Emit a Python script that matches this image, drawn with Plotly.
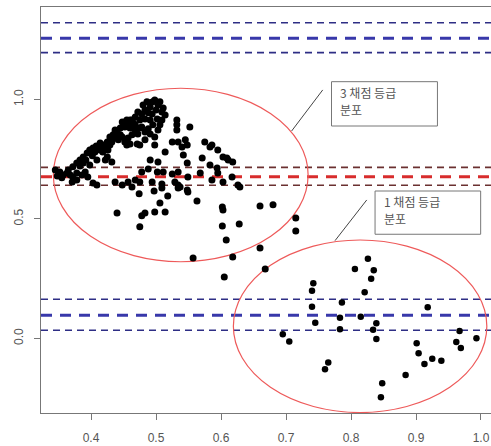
import plotly.graph_objects as go

# ---- data ----
grade3_x = [
    # left blob around the red band
    0.345, 0.352, 0.357, 0.363, 0.365, 0.368, 0.372, 0.371, 0.378, 0.378, 0.386, 0.391, 0.395, 0.403, 0.409, 0.348, 0.355,
    # rising ridge
    0.372, 0.378, 0.383, 0.388, 0.388, 0.394, 0.398, 0.398, 0.403, 0.408, 0.411, 0.414, 0.418, 0.418, 0.425, 0.425,
    0.432, 0.429, 0.434, 0.440, 0.442, 0.445, 0.448, 0.452, 0.452, 0.455, 0.460, 0.460, 0.465, 0.457, 0.422, 0.429, 0.437,
    0.383, 0.392, 0.402, 0.406, 0.414, 0.432, 0.437, 0.445, 0.448, 0.455, 0.468, 0.475, 0.480, 0.486, 0.514, 0.509,
    0.491, 0.483, 0.426, 0.409,
    # peak
    0.495, 0.503, 0.491, 0.509, 0.483, 0.478, 0.472, 0.468, 0.463, 0.457, 0.483, 0.491, 0.502, 0.506, 0.478, 0.488,
    0.483, 0.472, 0.463, 0.460, 0.471, 0.475, 0.498, 0.498, 0.498, 0.491, 0.500, 0.494, 0.488, 0.506, 0.511, 0.475,
    0.468, 0.495, 0.503,
    # right of peak
    0.532, 0.532, 0.532, 0.552, 0.525, 0.534, 0.545, 0.548, 0.540, 0.514, 0.542, 0.503, 0.491, 0.548, 0.488, 0.478,
    0.502, 0.511, 0.534, 0.525, 0.468, 0.475, 0.494, 0.529, 0.534, 0.463, 0.509, 0.448, 0.437, 0.457, 0.422,
    # farther right
    0.568, 0.575, 0.583, 0.595, 0.603, 0.609, 0.583, 0.594, 0.595, 0.586, 0.603, 0.626, 0.617, 0.571, 0.586, 0.611,
    0.618, 0.629, 0.537, 0.548, 0.549,
    # lower scatter
    0.440, 0.474, 0.478, 0.483, 0.475, 0.498, 0.506, 0.514, 0.497, 0.509, 0.518, 0.534, 0.549, 0.563, 0.602, 0.603,
    0.602, 0.628, 0.608, 0.660, 0.680, 0.715, 0.715, 0.660, 0.557, 0.618, 0.668, 0.605]
grade3_y = [
    0.705, 0.697, 0.684, 0.692, 0.705, 0.684, 0.676, 0.655, 0.663, 0.692, 0.684, 0.697, 0.676, 0.651, 0.642, 0.680, 0.672,
    0.718, 0.734, 0.747, 0.759, 0.734, 0.776, 0.789, 0.726, 0.797, 0.805, 0.797, 0.818, 0.810, 0.780, 0.822, 0.759,
    0.738, 0.843, 0.852, 0.864, 0.831, 0.881, 0.843, 0.885, 0.822, 0.810, 0.914, 0.881, 0.902, 0.839, 0.801, 0.810, 0.839,
    0.722, 0.747, 0.764, 0.780, 0.789, 0.822, 0.872, 0.852, 0.906, 0.914, 0.872, 0.881, 0.977, 0.990, 0.935, 0.914,
    0.856, 0.831, 0.789, 0.747,
    0.990, 0.977, 0.969, 0.948, 0.956, 0.939, 0.948, 0.927, 0.914, 0.898, 0.918, 0.914, 0.918, 0.894, 0.885, 0.877,
    0.864, 0.856, 0.852, 0.814, 0.814, 0.810, 0.843, 0.810, 0.998, 0.986, 0.956, 0.939, 0.944, 0.990, 0.964, 0.914,
    0.894, 0.894, 0.872,
    0.914, 0.894, 0.872, 0.885, 0.822, 0.822, 0.831, 0.810, 0.801, 0.780, 0.768, 0.738, 0.747, 0.734, 0.709, 0.697,
    0.697, 0.697, 0.697, 0.688, 0.663, 0.655, 0.655, 0.655, 0.642, 0.634, 0.646, 0.642, 0.655, 0.655, 0.747,
    0.692, 0.822, 0.801, 0.789, 0.759, 0.755, 0.726, 0.713, 0.692, 0.663, 0.655, 0.642, 0.676, 0.755, 0.810, 0.747,
    0.738, 0.634, 0.634, 0.621, 0.676,
    0.525, 0.605, 0.513, 0.525, 0.467, 0.529, 0.567, 0.529, 0.617, 0.630, 0.596, 0.630, 0.613, 0.575, 0.550, 0.538,
    0.471, 0.479, 0.412, 0.554, 0.559, 0.504, 0.450, 0.379, 0.337, 0.341, 0.291, 0.257]

grade1_x = [0.695, 0.705, 0.740, 0.742, 0.740, 0.745, 0.760, 0.765, 0.786, 0.783, 0.783, 0.806, 0.815, 0.821,
            0.826, 0.831, 0.835, 0.834, 0.839, 0.839, 0.848, 0.846, 0.884, 0.901, 0.904, 0.913, 0.918, 0.925,
            0.939, 0.962, 0.967, 0.969, 0.993]
grade1_y = [0.018, -0.013, 0.200, 0.231, 0.133, 0.066, -0.129, -0.101, 0.150, 0.087, 0.038, 0.291, 0.091, 0.193,
            0.333, 0.250, 0.285, 0.036, 0.064, -0.002, -0.187, -0.246, -0.153, -0.020, -0.062, -0.107, 0.131, -0.085,
            -0.093, -0.015, 0.031, -0.040, 0.001]

# reference line bands: upper limit, centre, lower limit
upper_band = [1.321, 1.256, 1.196]
mid_band = [0.716, 0.677, 0.641]
low_band = [0.164, 0.097, 0.034]

label3_lines = ["3 채점 등급", "분포"]
label1_lines = ["1 채점 등급", "분포"]

x_ticks = [0.4, 0.5, 0.6, 0.7, 0.8, 0.9, 1.0]
y_ticks = [0.0, 0.5, 1.0]

fig = go.Figure()

fig.add_trace(go.Scatter(x=grade3_x, y=grade3_y, mode="markers",
                         marker=dict(color="black", size=7), showlegend=False, hoverinfo="skip"))
fig.add_trace(go.Scatter(x=grade1_x, y=grade1_y, mode="markers",
                         marker=dict(color="black", size=6.5), showlegend=False, hoverinfo="skip"))

shapes = []
thin_blue = "#2e2e85"
thick_blue = "#3838aa"
thin_brown = "#6b3030"
thick_red = "#d82c2c"


def hline(v, color, width, dash):
    return dict(type="line", xref="paper", x0=0, x1=1, yref="y", y0=v, y1=v,
                line=dict(color=color, width=width, dash=dash), layer="below")


for band, thin_c, thick_c in [(upper_band, thin_blue, thick_blue), (mid_band, thin_brown, thick_red),
                              (low_band, thin_blue, thick_blue)]:
    shapes.append(hline(band[0], thin_c, 1.6, "7px,5px"))
    shapes.append(hline(band[1], thick_c, 3, "11px,8px"))
    shapes.append(hline(band[2], thin_c, 1.6, "7px,5px"))

# ellipses
ell_col = "#ee5a5a"
shapes.append(dict(type="circle", xref="x", yref="y", x0=0.342, x1=0.734, y0=0.321, y1=1.047,
                   line=dict(color=ell_col, width=1.2), layer="below"))
shapes.append(dict(type="circle", xref="x", yref="y", x0=0.619, x1=1.009, y0=-0.310, y1=0.412,
                   line=dict(color=ell_col, width=1.2), layer="below"))

# callout boxes and pointers
box_col = "#777777"
shapes.append(dict(type="rect", xref="x", yref="y", x0=0.770, x1=0.933, y0=0.889, y1=1.0745,
                   line=dict(color=box_col, width=1)))
shapes.append(dict(type="rect", xref="x", yref="y", x0=0.837, x1=0.9995, y0=0.436, y1=0.617,
                   line=dict(color=box_col, width=1)))
shapes.append(dict(type="line", xref="x", yref="y", x0=0.7565, y0=1.040, x1=0.7086, y1=0.868,
                   line=dict(color="#444444", width=1)))
shapes.append(dict(type="line", xref="x", yref="y", x0=0.8242, y0=0.5795, x1=0.7754, y1=0.4092,
                   line=dict(color="#444444", width=1)))

lab_font = dict(family="Noto Sans CJK KR", size=12, color="#555555")
annotations = []
for (tx, tys, lines) in [(0.7815, [1.031, 0.960], label3_lines), (0.849, [0.575, 0.504], label1_lines)]:
    for ty, line in zip(tys, lines):
        annotations.append(dict(x=tx, y=ty, xref="x", yref="y", text=line, showarrow=False,
                                xanchor="left", yanchor="middle", align="left", borderpad=0, font=lab_font))

fig.update_layout(
    width=491, height=446,
    margin=dict(l=41, r=0, t=7, b=33, autoexpand=False),
    plot_bgcolor="white", paper_bgcolor="white",
    shapes=shapes, annotations=annotations,
    font=dict(family="Liberation Sans", size=12, color="#555555"),
    showlegend=False,
)
fig.update_xaxes(range=[0.323, 1.0154], tickvals=x_ticks, ticktext=[f"{v:.1f}" for v in x_ticks],
                 showgrid=False, zeroline=False, showline=True, linecolor="#777777", linewidth=1,
                 mirror=True, ticks="outside", ticklen=6, tickcolor="#777777", ticklabelstandoff=8)
fig.update_yaxes(range=[-0.312, 1.387], tickvals=y_ticks, ticktext=[f"{v:.1f}" for v in y_ticks],
                 showgrid=False, zeroline=False, showline=True, linecolor="#777777", linewidth=1,
                 ticks="outside", ticklen=6, tickcolor="#777777", tickangle=-90, ticklabelstandoff=6)

fig.write_html("out.html")
